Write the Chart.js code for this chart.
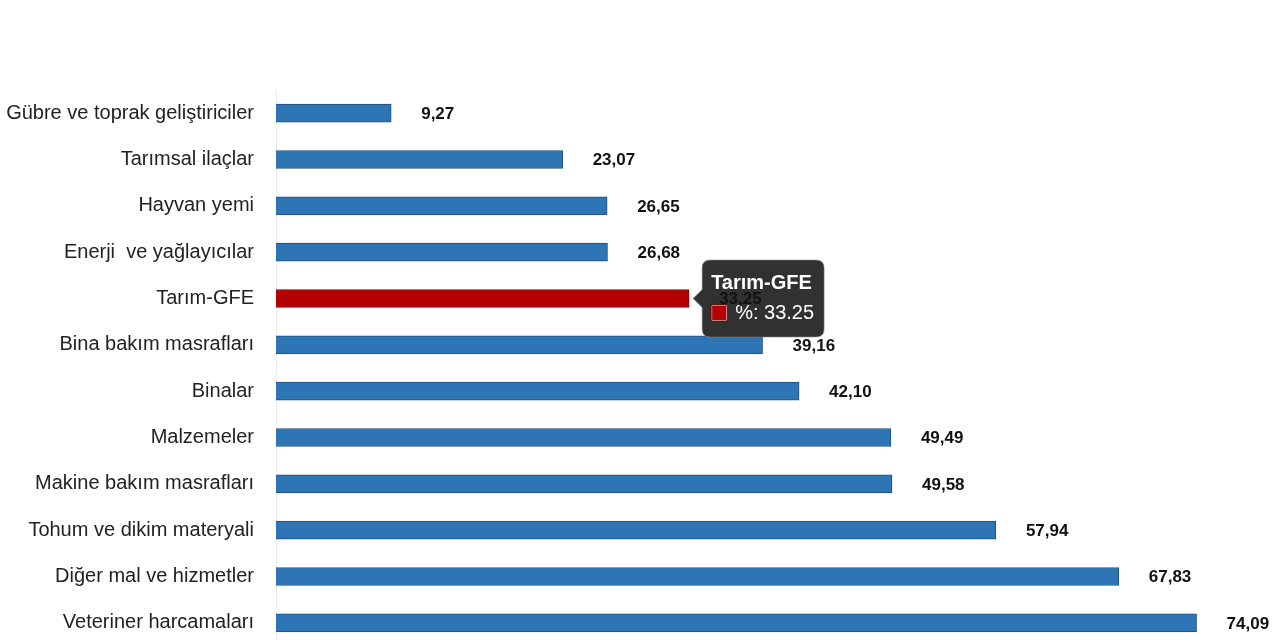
<!DOCTYPE html>
<html>
<head>
<meta charset="utf-8">
<script src="https://cdn.jsdelivr.net/npm/chart.js@4.4.1/dist/chart.umd.min.js"></script>
<style>
  html, body { margin: 0; padding: 0; background: #fff; overflow: hidden; }
  #wrap { width: 1280px; height: 680px; position: relative; }
</style>
</head>
<body>
<div id="wrap"><canvas id="myChart" width="1280" height="680"></canvas></div>
<script>
// categories and values (% change)
const categories = [
    'Gübre ve toprak geliştiriciler',
    'Tarımsal ilaçlar',
    'Hayvan yemi',
    'Enerji  ve yağlayıcılar',
    'Tarım-GFE',
    'Bina bakım masrafları',
    'Binalar',
    'Malzemeler',
    'Makine bakım masrafları',
    'Tohum ve dikim materyali',
    'Diğer mal ve hizmetler',
    'Veteriner harcamaları'
];
const values = [9.27, 23.07, 26.65, 26.68, 33.25, 39.16, 42.10, 49.49, 49.58, 57.94, 67.83, 74.09];
const highlightIndex = 4;

const blue = '#2e75b6', blueBorder = '#1f4e79';
const red = '#b50000', redBorder = '#7a0000';

const fillColors = values.map((v, i) => i === highlightIndex ? red : blue);
const borderColors = values.map((v, i) => i === highlightIndex ? redBorder : blueBorder);

// value labels to the right of every bar
const valueLabels = {
    id: 'valueLabels',
    afterDraw(chart) {
        const ctx = chart.ctx;
        const meta = chart.getDatasetMeta(0);
        ctx.save();
        ctx.font = 'bold 17px "Liberation Sans", Arial, sans-serif';
        ctx.fillStyle = '#111';
        ctx.textAlign = 'left';
        ctx.textBaseline = 'middle';
        meta.data.forEach((bar, i) => {
            let txt = values[i].toFixed(2).replace('.', ',');
            ctx.fillText(txt, bar.x + 30, bar.y + 1);
        });
        ctx.restore();
    }
};

const ctx = document.getElementById('myChart').getContext('2d');
var myChart = new Chart(ctx, {
    type: 'bar',
    data: {
        labels: categories,
        datasets: [{
            label: '%',
            data: values,
            backgroundColor: fillColors,
            borderColor: borderColors,
            borderWidth: 1,
            barThickness: 18
        }]
    },
    options: {
        indexAxis: 'y',
        responsive: false,
        animation: false,
        layout: { padding: { top: 90, right: 10, bottom: 5, left: 0 } },
        scales: {
            x: {
                display: false,
                min: 0,
                max: 80
            },
            y: {
                grid: { display: false, drawTicks: false },
                border: { display: true, color: '#ececec', width: 1 },
                ticks: {
                    padding: 22,
                    color: '#222',
                    font: { family: '"Liberation Sans", Arial, sans-serif', size: 20 }
                },
                afterFit(scale) { scale.width = 276; }
            }
        },
        plugins: {
            legend: { display: false },
            tooltip: {
                backgroundColor: 'rgba(36,36,36,0.94)',
                borderColor: 'rgba(140,140,140,0.6)',
                borderWidth: 1,
                titleColor: '#fff',
                bodyColor: '#fff',
                titleFont: { family: '"Liberation Sans", Arial, sans-serif', size: 20, weight: 'bold' },
                bodyFont: { family: '"Liberation Sans", Arial, sans-serif', size: 20 },
                padding: { top: 11, bottom: 12, left: 9, right: 10 },
                cornerRadius: 8,
                caretSize: 9,
                caretPadding: 4,
                boxWidth: 16,
                boxHeight: 16,
                boxPadding: 6,
                xAlign: 'left',
                yAlign: 'center'
            }
        }
    },
    plugins: [valueLabels]
});

// show the tooltip on the highlighted bar
const el = myChart.getDatasetMeta(0).data[highlightIndex];
myChart.tooltip.setActiveElements([{ datasetIndex: 0, index: highlightIndex }], { x: el.x, y: el.y });
myChart.update();
</script>
</body>
</html>
